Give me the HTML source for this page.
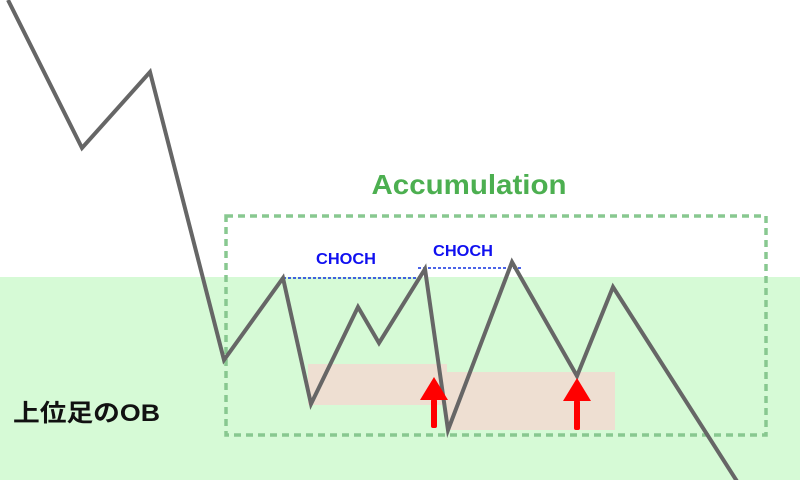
<!DOCTYPE html>
<html><head><meta charset="utf-8"><style>
html,body{margin:0;padding:0;background:#fff;}
svg{display:block;}
</style></head><body>
<svg width="800" height="480" viewBox="0 0 800 480" xmlns="http://www.w3.org/2000/svg">
<rect x="0" y="277" width="800" height="203" fill="#d6fad6"/>
<rect x="308" y="364" width="139" height="41" fill="#eedfd2"/>
<rect x="447" y="372" width="168" height="58" fill="#eedfd2"/>
<rect x="226" y="216" width="540" height="219" fill="none" stroke="#88c890" stroke-width="3.5" stroke-dasharray="7,5"/>
<line x1="283" y1="278" x2="418" y2="278" stroke="#1030e0" stroke-width="1.5" stroke-dasharray="3,2"/>
<line x1="418" y1="268" x2="523" y2="268" stroke="#1030e0" stroke-width="1.5" stroke-dasharray="3,2"/>
<polyline points="8,0 82,148 150,72 224,360 283,278 311,404 358,307 379,343 425,269 448,430 512,262 577,376 613,287 740,486" fill="none" stroke="#666" stroke-width="4" stroke-linejoin="miter"/>
<g fill="#ff0000">
<polygon points="434,377 420,400 448,400"/><rect x="431" y="399" width="6" height="29" rx="2"/>
<polygon points="577,378 563,401 591,401"/><rect x="574" y="400" width="6" height="30" rx="2"/>
</g>
<text x="469" y="194" text-anchor="middle" font-family="Liberation Sans, sans-serif" font-weight="bold" font-size="28" fill="#4caf50" textLength="195" lengthAdjust="spacingAndGlyphs">Accumulation</text>
<text x="346" y="264" text-anchor="middle" font-family="Liberation Sans, sans-serif" font-weight="bold" font-size="16" fill="#1010f0" textLength="60" lengthAdjust="spacingAndGlyphs">CHOCH</text>
<text x="463" y="256" text-anchor="middle" font-family="Liberation Sans, sans-serif" font-weight="bold" font-size="16" fill="#1010f0" textLength="60" lengthAdjust="spacingAndGlyphs">CHOCH</text>
<text x="13" y="421" font-family="Liberation Sans, 'Noto Sans CJK JP', sans-serif" font-weight="bold" font-size="24" fill="#111" textLength="147" lengthAdjust="spacingAndGlyphs">上位足のOB</text>
</svg>
</body></html>
